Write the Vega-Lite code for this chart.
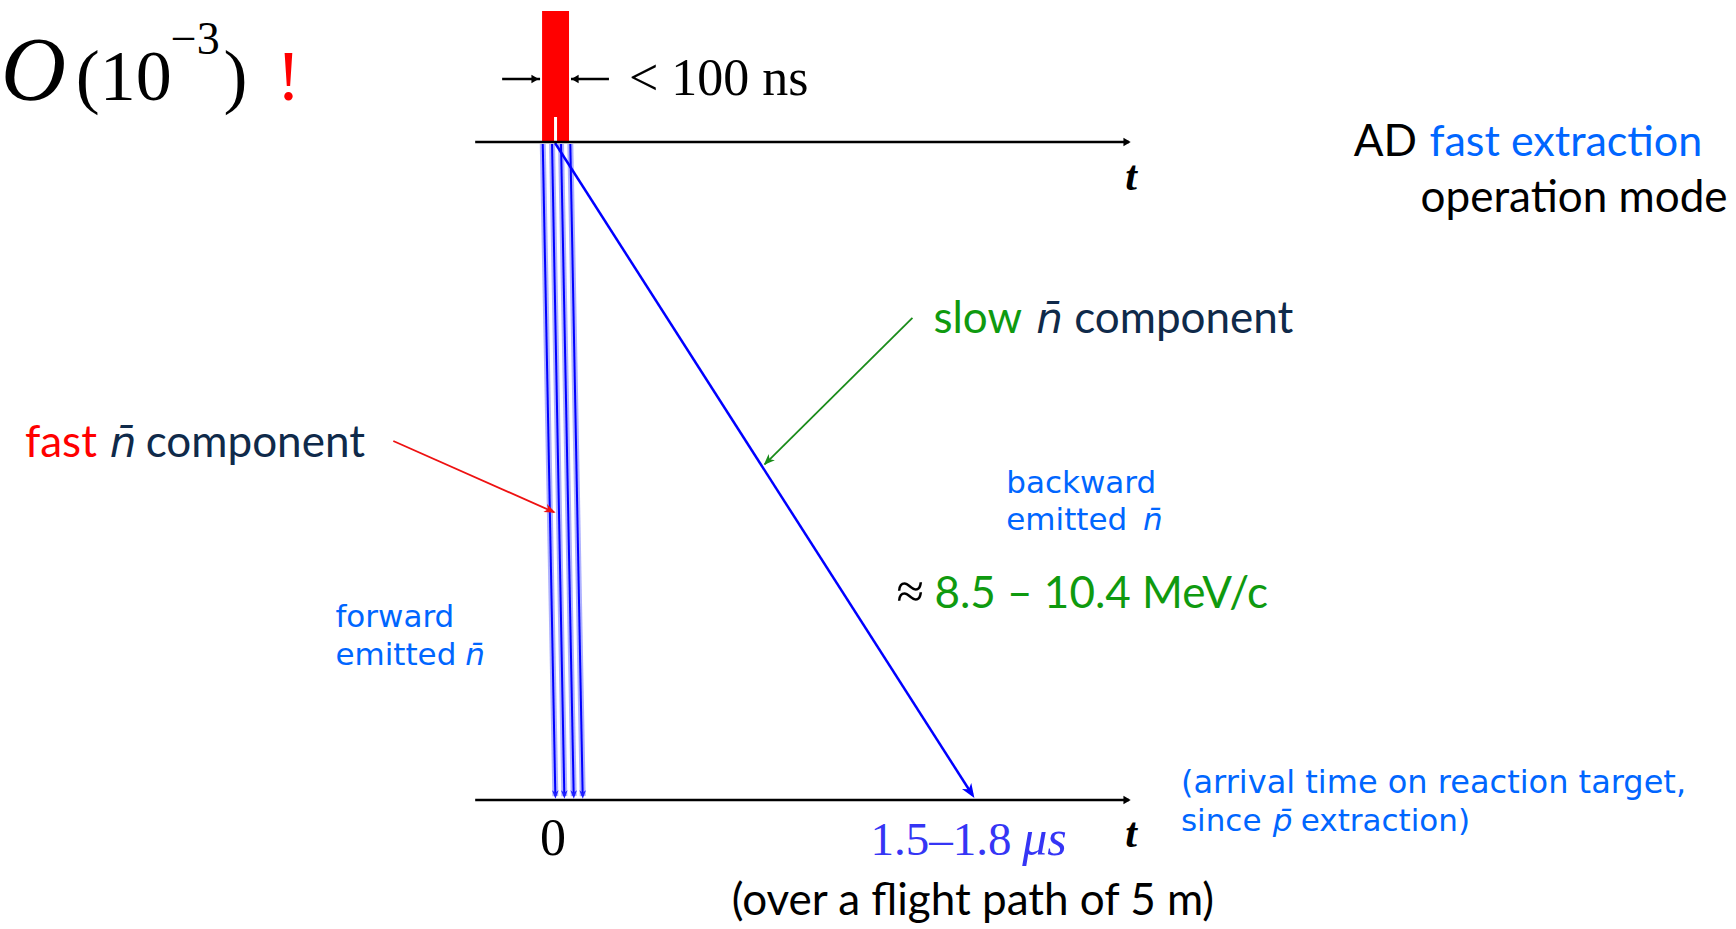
{
  "$schema": "https://vega.github.io/schema/vega-lite/v6.json",
  "width": 1736,
  "height": 929,
  "autosize": {"type": "fit", "contains": "padding"},
  "padding": 0,
  "background": "white",
  "config": {"view": {"stroke": null}},
  "datasets": {
    "axes": [
      {"t": -0.32, "t2": 2.30, "d": 0, "d2": 0},
      {"t": -0.32, "t2": 2.30, "d": 5, "d2": 5},
      {"t": -0.212, "t2": -0.06, "d": -0.4787, "d2": -0.4787},
      {"t": 0.216, "t2": 0.064, "d": -0.4787, "d2": -0.4787}
    ],
    "headsRight": [
      {"t": 2.292, "d": 0},
      {"t": 2.292, "d": 5},
      {"t": -0.08, "d": -0.4787}
    ],
    "headsLeft": [
      {"t": 0.08, "d": -0.4787}
    ],
    "pulse": [{"t": -0.052, "t2": 0.056, "d": -0.995, "d2": 0}],
    "gap": [{"t": -0.004, "t2": 0.008, "d": -0.19, "d2": 0}],
    "fast": [
      {"t": -0.0492, "t2": 0.0012, "d": 0.0152, "d2": 4.97},
      {"t": -0.012, "t2": 0.0372, "d": 0.0152, "d2": 4.97},
      {"t": 0.024, "t2": 0.0748, "d": 0.0152, "d2": 4.97},
      {"t": 0.0612, "t2": 0.1108, "d": 0.0152, "d2": 4.97}
    ],
    "fastHeads": [
      {"t": 0.0012, "d": 4.955},
      {"t": 0.0372, "d": 4.955},
      {"t": 0.0748, "d": 4.955},
      {"t": 0.1108, "d": 4.955}
    ],
    "slow": [{"t": 0, "t2": 1.672, "d": 0.0076, "d2": 4.96}],
    "slowHead": [{"t": 1.663, "d": 4.934}],
    "greenArrow": [{"t": 1.432, "t2": 0.84, "d": 1.337, "d2": 2.45}],
    "greenHead": [{"t": 0.854, "d": 2.421}],
    "redArrow": [{"t": -0.648, "t2": -0.004, "d": 2.272, "d2": 2.813}],
    "redHead": [{"t": -0.021, "d": 2.797}],
    "serif72": [
      {"t": -1.92, "d": -0.3191, "label": "(10"},
      {"t": -1.328, "d": -0.3191, "label": ")"}
    ],
    "serif72i": [{"t": -2.22, "d": -0.3191, "label": "O"}],
    "serifSup": [{"t": -1.54, "d": -0.6687, "label": "−3"}],
    "bang": [{"t": -1.068, "d": -0.3191, "label": "!"}],
    "serif52": [
      {"t": 0.296, "d": -0.3571, "label": "< 100 ns"},
      {"t": -0.06, "d": 5.4179, "label": "0"}
    ],
    "serif52blue": [{"t": 1.264, "d": 5.4179, "label": "1.5–1.8"}],
    "serif52blueI": [{"t": 1.872, "d": 5.4179, "label": "μs"}],
    "tlabels": [
      {"t": 2.308, "d": 0.3647, "label": "t"},
      {"t": 2.308, "d": 5.3571, "label": "t"}
    ],
    "approx": [{"t": 1.368, "d": 3.541, "label": "≈"}],
    "green": [
      {"t": 1.516, "d": 1.4514, "label": "slow"},
      {"t": 1.52, "d": 3.541, "label": "8.5 – 10.4 MeV/c"}
    ],
    "redText": [{"t": -2.124, "d": 2.3936, "label": "fast"}],
    "navy": [
      {"t": 2.08, "d": 1.4514, "label": "component"},
      {"t": -1.64, "d": 2.3936, "label": "component"}
    ],
    "navyN": [
      {"t": 1.928, "d": 1.4514, "label": "n̄"},
      {"t": -1.784, "d": 2.3936, "label": "n̄"}
    ],
    "blueSmall": [
      {"t": 1.808, "d": 2.6672, "label": "backward"},
      {"t": 1.808, "d": 2.9483, "label": "emitted"},
      {"t": -0.88, "d": 3.6854, "label": "forward"},
      {"t": -0.88, "d": 3.9742, "label": "emitted"},
      {"t": 2.508, "d": 5.2356, "label": "since"},
      {"t": 2.988, "d": 5.2356, "label": "extraction)"}
    ],
    "blueArrival": [
      {"t": 2.508, "d": 4.947, "label": "(arrival time on reaction target,"}
    ],
    "blueSmallI": [
      {"t": 2.356, "d": 2.9483, "label": "n̄"},
      {"t": -0.36, "d": 3.9742, "label": "n̄"},
      {"t": 2.876, "d": 5.2356, "label": "p̄"}
    ],
    "black45": [
      {"t": 3.2, "d": 0.1064, "label": "AD"},
      {"t": 3.468, "d": 0.5319, "label": "operation mode"},
      {"t": 0.708, "d": 5.8739, "label": "(over a flight path of 5 m)"}
    ],
    "blue45": [{"t": 3.504, "d": 0.1064, "label": "fast extraction"}]
  },
  "encoding": {
    "x": {"field": "t", "type": "quantitative", "axis": null,
          "scale": {"domain": [-2.212, 4.732], "nice": false, "zero": false}},
    "y": {"field": "d", "type": "quantitative", "axis": null,
          "scale": {"domain": [-1.079, 5.98], "nice": false, "zero": false, "reverse": true}}
  },
  "layer": [
    {"data": {"name": "pulse"}, "mark": {"type": "rect", "color": "#ff0000"},
     "encoding": {"x2": {"field": "t2"}, "y2": {"field": "d2"}}},
    {"data": {"name": "gap"}, "mark": {"type": "rect", "color": "#ffffff"},
     "encoding": {"x2": {"field": "t2"}, "y2": {"field": "d2"}}},
    {"data": {"name": "fast"}, "mark": {"type": "rule", "color": "#aeb1ff", "strokeWidth": 6},
     "encoding": {"x2": {"field": "t2"}, "y2": {"field": "d2"}}},
    {"data": {"name": "fast"}, "mark": {"type": "rule", "color": "#0000ff", "strokeWidth": 2},
     "encoding": {"x2": {"field": "t2"}, "y2": {"field": "d2"}}},
    {"data": {"name": "fastHeads"}, "mark": {"type": "point", "shape": "M0,-1L0.7,0.8L0,0.3L-0.7,0.8Z", "filled": true, "color": "#2020ff", "opacity": 1, "size": 90, "angle": 179},
     "encoding": {}},
    {"data": {"name": "slow"}, "mark": {"type": "rule", "color": "#0000ff", "strokeWidth": 2.5},
     "encoding": {"x2": {"field": "t2"}, "y2": {"field": "d2"}}},
    {"data": {"name": "slowHead"}, "mark": {"type": "point", "shape": "M0,-1L0.7,0.8L0,0.3L-0.7,0.8Z", "filled": true, "color": "#0000ff", "opacity": 1, "size": 250, "angle": 147},
     "encoding": {}},
    {"data": {"name": "axes"}, "mark": {"type": "rule", "color": "#000000", "strokeWidth": 2.6},
     "encoding": {"x2": {"field": "t2"}, "y2": {"field": "d2"}}},
    {"data": {"name": "headsRight"}, "mark": {"type": "point", "shape": "triangle-right", "filled": true, "color": "#000000", "opacity": 1, "size": 70},
     "encoding": {}},
    {"data": {"name": "headsLeft"}, "mark": {"type": "point", "shape": "triangle-left", "filled": true, "color": "#000000", "opacity": 1, "size": 70},
     "encoding": {}},
    {"data": {"name": "greenArrow"}, "mark": {"type": "rule", "color": "#1a8c1a", "strokeWidth": 1.8},
     "encoding": {"x2": {"field": "t2"}, "y2": {"field": "d2"}}},
    {"data": {"name": "greenHead"}, "mark": {"type": "point", "shape": "M0,-1L0.7,0.8L0,0.3L-0.7,0.8Z", "filled": true, "color": "#1a8c1a", "opacity": 1, "size": 160, "angle": 225},
     "encoding": {}},
    {"data": {"name": "redArrow"}, "mark": {"type": "rule", "color": "#ee1111", "strokeWidth": 1.8},
     "encoding": {"x2": {"field": "t2"}, "y2": {"field": "d2"}}},
    {"data": {"name": "redHead"}, "mark": {"type": "point", "shape": "M0,-1L0.7,0.8L0,0.3L-0.7,0.8Z", "filled": true, "color": "#ee1111", "opacity": 1, "size": 160, "angle": 114},
     "encoding": {}},
    {"data": {"name": "serif72"}, "mark": {"type": "text", "font": "Liberation Serif", "fontSize": 72, "color": "#000000", "align": "left", "baseline": "alphabetic"},
     "encoding": {"text": {"field": "label"}}},
    {"data": {"name": "serif72i"}, "mark": {"type": "text", "font": "Liberation Serif", "fontStyle": "italic", "fontSize": 90, "color": "#000000", "align": "left", "baseline": "alphabetic"},
     "encoding": {"text": {"field": "label"}}},
    {"data": {"name": "serifSup"}, "mark": {"type": "text", "font": "Liberation Serif", "fontSize": 46, "color": "#000000", "align": "left", "baseline": "alphabetic"},
     "encoding": {"text": {"field": "label"}}},
    {"data": {"name": "bang"}, "mark": {"type": "text", "font": "Liberation Serif", "fontSize": 72, "color": "#ff0000", "align": "center", "baseline": "alphabetic"},
     "encoding": {"text": {"field": "label"}}},
    {"data": {"name": "serif52"}, "mark": {"type": "text", "font": "Liberation Serif", "fontSize": 52, "color": "#000000", "align": "left", "baseline": "alphabetic"},
     "encoding": {"text": {"field": "label"}}},
    {"data": {"name": "serif52blue"}, "mark": {"type": "text", "font": "Liberation Serif", "fontSize": 47, "color": "#3535f5", "align": "left", "baseline": "alphabetic"},
     "encoding": {"text": {"field": "label"}}},
    {"data": {"name": "serif52blueI"}, "mark": {"type": "text", "font": "Liberation Serif", "fontStyle": "italic", "fontSize": 50, "color": "#3535f5", "align": "left", "baseline": "alphabetic"},
     "encoding": {"text": {"field": "label"}}},
    {"data": {"name": "tlabels"}, "mark": {"type": "text", "font": "Liberation Serif", "fontStyle": "italic", "fontWeight": "bold", "fontSize": 42, "color": "#000000", "align": "center", "baseline": "alphabetic"},
     "encoding": {"text": {"field": "label"}}},
    {"data": {"name": "approx"}, "mark": {"type": "text", "font": "Liberation Serif", "fontSize": 50, "color": "#000000", "align": "left", "baseline": "alphabetic"},
     "encoding": {"text": {"field": "label"}}},
    {"data": {"name": "green"}, "mark": {"type": "text", "font": "Lato", "fontSize": 44, "color": "#0f9a0f", "align": "left", "baseline": "alphabetic"},
     "encoding": {"text": {"field": "label"}}},
    {"data": {"name": "redText"}, "mark": {"type": "text", "font": "Lato", "fontSize": 44, "color": "#ff0000", "align": "left", "baseline": "alphabetic"},
     "encoding": {"text": {"field": "label"}}},
    {"data": {"name": "navy"}, "mark": {"type": "text", "font": "Lato", "fontSize": 44, "color": "#0f2a4a", "align": "left", "baseline": "alphabetic"},
     "encoding": {"text": {"field": "label"}}},
    {"data": {"name": "navyN"}, "mark": {"type": "text", "font": "DejaVu Sans", "fontStyle": "italic", "fontSize": 42, "color": "#0f2a4a", "align": "left", "baseline": "alphabetic"},
     "encoding": {"text": {"field": "label"}}},
    {"data": {"name": "blueSmall"}, "mark": {"type": "text", "font": "DejaVu Sans", "fontSize": 31, "color": "#0066ff", "align": "left", "baseline": "alphabetic"},
     "encoding": {"text": {"field": "label"}}},
    {"data": {"name": "blueArrival"}, "mark": {"type": "text", "font": "DejaVu Sans", "fontSize": 32, "color": "#0066ff", "align": "left", "baseline": "alphabetic"},
     "encoding": {"text": {"field": "label"}}},
    {"data": {"name": "blueSmallI"}, "mark": {"type": "text", "font": "DejaVu Sans", "fontStyle": "italic", "fontSize": 31, "color": "#0066ff", "align": "left", "baseline": "alphabetic"},
     "encoding": {"text": {"field": "label"}}},
    {"data": {"name": "black45"}, "mark": {"type": "text", "font": "Lato", "fontSize": 44, "color": "#000000", "align": "left", "baseline": "alphabetic"},
     "encoding": {"text": {"field": "label"}}},
    {"data": {"name": "blue45"}, "mark": {"type": "text", "font": "Lato", "fontSize": 43, "color": "#0066ff", "align": "left", "baseline": "alphabetic"},
     "encoding": {"text": {"field": "label"}}}
  ]
}
